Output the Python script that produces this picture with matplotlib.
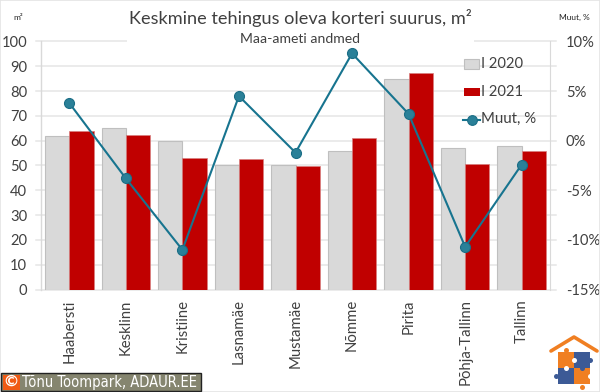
import matplotlib
matplotlib.use("Agg")
import matplotlib.pyplot as plt
from matplotlib.patches import Rectangle
from matplotlib.lines import Line2D
import numpy as np

plt.rcParams['font.family'] = ['Lato', 'DejaVu Sans']

categories = ["Haabersti", "Kesklinn", "Kristiine", "Lasnamäe", "Mustamäe", "Nõmme", "Pirita", "Põhja-Tallinn", "Tallinn"]
y2020 = [61.7, 65.0, 59.7, 50.0, 50.3, 56.0, 85.0, 57.0, 57.7]
y2021 = [63.8, 62.4, 53.0, 52.5, 49.8, 61.0, 87.3, 50.5, 56.0]
change = [3.8, -3.8, -11.0, 4.5, -1.2, 8.8, 2.7, -10.7, -2.4]
left_ticks = list(range(0, 101, 10))
right_ticks = [-15, -10, -5, 0, 5, 10]
right_labels = ["-15%", "-10%", "-5%", "0%", "5%", "10%"]

W, H = 600, 392
fig = plt.figure(figsize=(W/100, H/100), dpi=100, facecolor='white')
ax = fig.add_axes([41/W, 1-289.5/H, (550-41)/W, (289.5-41.5)/H])
x = np.arange(len(categories))
bw = 0.43
text_c = '#404040'

ax.bar(x-bw/2, y2020, bw, color='#D9D9D9', edgecolor='#BFBFBF', linewidth=0.8, zorder=3, label='I 2020')
ax.bar(x+bw/2, y2021, bw, color='#C00000', edgecolor='#D98080', linewidth=0.5, zorder=3, label='I 2021')
ax.set_xlim(-0.5, len(categories)-0.5)
ax.set_ylim(0, 100)
ax.set_yticks(left_ticks)
ax.set_xticks(x)
ax.set_xticklabels(categories, rotation=90, fontsize=10.7, color=text_c)
ax.tick_params(axis='x', length=0, pad=7)
ax.tick_params(axis='y', length=0, pad=9.8, labelsize=10.6, labelcolor=text_c)
for s in ['top', 'right', 'bottom']:
    ax.spines[s].set_visible(False)
ax.spines['left'].set_color('#D9D9D9')
ax.spines['left'].set_linewidth(1)
ax.set_axisbelow(True)
for t in left_ticks:
    ax.plot([-0.5-5/56.5, len(categories)-0.5+6/56.5], [t, t], color='#E6E6E6', lw=1.1, zorder=1, clip_on=False)

ax2 = ax.twinx()
ax2.set_ylim(-15, 10)
ax2.set_yticks(right_ticks)
ax2.set_yticklabels(right_labels)
ax2.tick_params(axis='y', length=0, pad=11.5, labelsize=10.6, labelcolor=text_c)
for s in ['top', 'left', 'bottom']:
    ax2.spines[s].set_visible(False)
ax2.spines['right'].set_color('#D9D9D9')
ax2.plot(x, change, color='#17748F', lw=1.5, marker='o', ms=7.2,
         markerfacecolor='#2A8098', markeredgecolor='#1B6E86', markeredgewidth=0.8, zorder=5, label='Muut, %')
ax2.patch.set_visible(False)

# mask of the 100 gridline behind the title
fig.add_artist(Rectangle((127/W, 1-45/H), (474-127)/W, 7/H, facecolor='white', edgecolor='none', transform=fig.transFigure, zorder=6))

def ftext(px, py, s, **kw):
    kw.setdefault('color', text_c)
    kw.setdefault('zorder', 10)
    fig.text(px/W, 1-py/H, s, **kw)

ftext(300, 18, "Keskmine tehingus oleva korteri suurus, m²", ha='center', va='center', fontsize=13.1)
ftext(300, 39, "Maa-ameti andmed", ha='center', va='center', fontsize=10.1)
ftext(18, 17.5, "m²", ha='center', va='center', fontsize=6, color='#222222')
ftext(574, 17.5, "Muut, %", ha='center', va='center', fontsize=6, color='#222222')

# legend
fig.add_artist(Rectangle((463.5/W, 1-68.5/H), 16/W, 9.5/H, facecolor='#D9D9D9', edgecolor='#BFBFBF', lw=0.8, transform=fig.transFigure, zorder=7))
fig.add_artist(Rectangle((464/W, 1-96/H), 15.5/W, 8/H, facecolor='#C00000', edgecolor='none', transform=fig.transFigure, zorder=7))
fig.add_artist(Line2D([463/W, 480/W], [1-119.5/H]*2, color='#17748F', lw=1.5, transform=fig.transFigure, zorder=7))
fig.add_artist(Line2D([471.5/W], [1-119.5/H], marker='o', ms=7, markerfacecolor='#2A8098', markeredgecolor='#1B6E86', markeredgewidth=0.8, transform=fig.transFigure, zorder=8))
ftext(481, 63.5, "I 2020", ha='left', va='center', fontsize=10.6)
ftext(481, 91.5, "I 2021", ha='left', va='center', fontsize=10.6)
ftext(481, 119, "Muut, %", ha='left', va='center', fontsize=10.8)

# copyright bar
fig.add_artist(Rectangle((0.5/W, 1-391/H), 200/W, 18/H, facecolor='#85856F', edgecolor='#222222', lw=1, transform=fig.transFigure, zorder=7))
fig.add_artist(Rectangle((2.5/W, 1-389.5/H), 17.5/W, 15/H, facecolor='#F05A14', edgecolor='none', transform=fig.transFigure, zorder=8))
ftext(11, 382, "©", ha='center', va='center', fontsize=11.5, color='white', fontweight='bold')
ftext(22, 382, "Tõnu Toompark, ADAUR.EE", ha='left', va='center', fontsize=10.5, color='white',
      family=['DejaVu Sans'], stretch='condensed')

# logo
fig.add_artist(Line2D([551/W, 574/W, 597/W], [1-351/H, 1-337/H, 1-351/H], color='#F07F22', lw=2.6, transform=fig.transFigure, zorder=8, solid_capstyle='round'))
for (px, py, c) in [(558, 352, '#F07F22'), (574, 352, '#3C5A96'), (558, 368, '#3C5A96'), (574, 368, '#F07F22')]:
    fig.add_artist(Rectangle((px/W, 1-(py+16)/H), 16/W, 16/H, facecolor=c, edgecolor='none', transform=fig.transFigure, zorder=8))
for (px, py, c) in [(566, 350, '#F07F22'), (590, 360, '#3C5A96'), (582, 368, '#3C5A96'), (556, 376, '#3C5A96'), (582, 387, '#F07F22'), (574, 360, 'white'), (566, 368, 'white'), (590, 376, 'white')]:
    fig.add_artist(Line2D([px/W], [1-py/H], marker='o', ms=3.6, markerfacecolor=c, markeredgecolor='none', transform=fig.transFigure, zorder=9))

# faint outer border
fig.add_artist(Rectangle((0, 0), 1, 1, facecolor='none', edgecolor='#E4E4E4', lw=1.2, transform=fig.transFigure, zorder=5))

fig.savefig("out.png", dpi=100)
